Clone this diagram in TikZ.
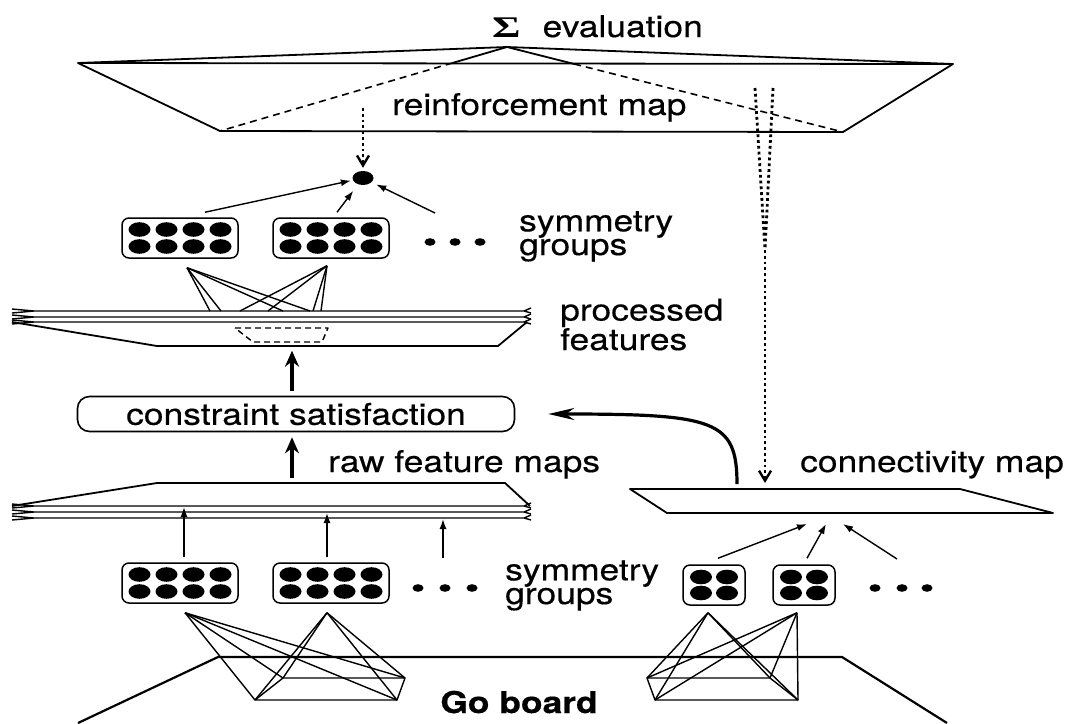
\documentclass[tikz,border=0pt]{standalone}
\usepackage[no-math]{fontspec}
\setmainfont{TeX Gyre Heros}[FakeStretch=1.18,FakeBold=0.35]
\newfontfamily\sigmafont{Liberation Serif}[FakeStretch=1.45]
\usetikzlibrary{arrows.meta,calc,shapes.geometric}

\begin{document}
\begin{tikzpicture}[x=1pt,y=-1pt,line join=round,
                        plane/.style={line width=1.8},
                        fine/.style={line width=1.4},
                        hidden/.style={line width=1.6,dash pattern=on 7pt off 5pt},
                        dotline/.style={line width=2.8,dash pattern=on 2.8pt off 3pt},
                        group/.style={draw,line width=1.5,rounded corners=7,minimum width=116,minimum height=40,inner sep=0},
                        smallgroup/.style={group,minimum width=62},
                        blob/.style={ellipse,fill,minimum width=21,minimum height=14,inner sep=0},
                        lbl/.style={font=\fontsize{30}{22}\selectfont,anchor=base west,inner sep=0,align=left},
                        thinarrow/.style={fine,-{Latex[length=10,width=7]}},
                        bigarrow/.style={line width=3.2,-{Stealth[length=16,width=14]}},
                        openarrow/.style={dotline,-{Straight Barb[length=10,width=12,line width=2.4]}}
                        ]
    \useasboundingbox (0,0) rectangle (1078,723);
    \fill[white] (0,0) rectangle (1078,723);

    % reinforcement map with the evaluation pyramid
    \coordinate (rtop) at (507,47);
    \coordinate (rnw) at (78,63);
    \coordinate (rne) at (953,64);
    \coordinate (rse) at (843,132);
    \coordinate (rsw) at (220,131);
    \draw[plane] (rnw) -- (rne) -- (rse) -- (rsw) -- cycle;
    \draw[plane] (rnw) -- (rtop) -- (rne);
    \draw[plane] (rtop) -- ($(rtop)!0.19!(rsw)$) coordinate (rl);
    \draw[plane] (rtop) -- ($(rtop)!0.2!(rse)$) coordinate (rr);
    \draw[hidden] (rl) -- (rsw);
    \draw[hidden] (rr) -- (rse);
    \node[lbl] (eval) at (492,37) {{\sigmafont\bfseries\fontsize{30}{30}\selectfont Σ}\hspace*{22pt}evaluation};
    \node[lbl] (rmap) at (392,115) {reinforcement map};

    % upper symmetry groups
    \foreach \n/\x in {ga/180,gb/331} {
        \node[group] (\n) at (\x,238) {};
        \foreach \i in {-1.5,-0.5,0.5,1.5}
            \foreach \j in {-0.5,0.5}
                \fill (\x+27*\i,238+17*\j) ellipse (11pt and 7.3pt);
    }
    \foreach \x in {430,455,480} \fill (\x,242) ellipse (5.5pt and 3.8pt);
    \node[lbl] (symtop) at (519,255) {symmetry\\groups};

    \node[blob] (dot) at (363,178) {};
    \coordinate (rdrop) at (363,108);
    \draw[openarrow,shorten >=3] (rdrop) -- (dot);
    \draw[thinarrow,shorten >=2] ($(ga.north)+(25,-5)$) -- (dot);
    \draw[thinarrow,shorten >=8] ($(gb.north)+(6,-5)$) -- (dot);
    \coordinate (gmore) at (435,213);
    \draw[thinarrow,shorten >=5] (gmore) -- (dot);

    % processed features
    \foreach \y in {311,317,322}
        \draw[fine] (12,\y-2) -- (34,\y) -- (524,\y) -- (531,\y-3) (12,\y+2) -- (34,\y) (524,\y) -- (531,\y+2);
    \draw[plane] (12,322) -- (157,346) -- (498,346) -- (527,322);
    \draw[fine,dash pattern=on 6pt off 4pt] (235,328) -- (328,328) -- (322,342) -- (253,342) -- cycle;
    \node[lbl] (proc) at (560,350) {processed\\features};

    \coordinate (pa) at ($(ga.south)+(7,9)$);
    \coordinate (pb) at ($(gb.south)+(-4,7)$);
    \foreach \x in {210,221,283,310} \draw[fine] (pa) -- (\x,311);
    \foreach \x in {240,268,313,321} \draw[fine] (pb) -- (\x,311);

    % constraint satisfaction
    \node[draw,line width=1.6,rounded corners=12,minimum width=437,minimum height=35,inner sep=0,
          font=\fontsize{30}{22}\selectfont] (cs) at (296,414) {constraint satisfaction};
    \draw[bigarrow] ($(cs.north)+(-4,-5)$) -- ++(0,-40);
    \coordinate (rawtop) at (292,478);
    \draw[bigarrow] (rawtop) -- ($(cs.south)+(-4,5)$);

    % raw feature maps
    \draw[plane] (12,506) -- (157,483) -- (505,483) -- (530,506);
    \foreach \y in {506,512,518}
        \draw[fine] (12,\y-2) -- (34,\y) -- (524,\y) -- (531,\y-3) (12,\y+2) -- (34,\y) (524,\y) -- (531,\y+2);
    \node[lbl] (raw) at (328,472) {raw feature maps};

    % connectivity map
    \coordinate (cnw) at (630,489);
    \coordinate (cne) at (960,489);
    \coordinate (cse) at (1053,513);
    \coordinate (csw) at (667,513);
    \draw[plane] (cnw) -- (cne) -- (cse) -- (csw) -- cycle;
    \node[lbl] (conn) at (800,472) {connectivity map};
    \coordinate (fa) at (755,88);
    \coordinate (fb) at (773,88);
    \coordinate (fm) at (765,250);
    \coordinate (fend) at (765,483);
    \draw[dotline] (fa) -- (fm) (fb) -- (fm);
    \draw[openarrow] (fm) -- (fend);
    \coordinate (cout) at (737,484);
    \draw[bigarrow,-{Stealth[length=26,width=12]}] (cout) .. controls (737,420) and (715,414) .. ($(cs.east)+(33,0)$);

    % lower symmetry groups
    \foreach \n/\x in {gc/180,gd/331} {
        \node[group] (\n) at (\x,583) {};
        \foreach \i in {-1.5,-0.5,0.5,1.5}
            \foreach \j in {-0.5,0.5}
                \fill (\x+27*\i,583+17*\j) ellipse (11pt and 7.3pt);
    }
    \foreach \n/\x in {ge/714,gf/804} {
        \node[smallgroup] (\n) at (\x,585) {};
        \foreach \i in {-0.5,0.5}
            \foreach \j in {-0.5,0.5}
                \fill (\x+26*\i,585+16*\j) ellipse (11pt and 7.3pt);
    }
    \foreach \x in {418,445,472} \fill (\x,588) ellipse (5.5pt and 3.8pt);
    \foreach \x in {875,902,927} \fill (\x,588) ellipse (5.5pt and 3.8pt);
    \node[lbl] (symbot) at (505,604) {symmetry\\groups};

    \draw[thinarrow] ($(gc.north)+(4,-5)$) -- (184,507);
    \draw[thinarrow] ($(gd.north)+(-4,-5)$) -- (327,513);
    \coordinate (cmore) at (443,558);
    \draw[thinarrow] (cmore) -- (443,519);
    \draw[thinarrow] ($(ge.north)+(4,-6)$) -- (807,524);
    \draw[thinarrow] ($(gf.north)+(3,-6)$) -- (826,524);
    \coordinate (emore) at (897,559);
    \draw[thinarrow] (emore) -- (843,524);

    % Go board
    \draw[line width=2.2] (78,723) -- (218,657) -- (842,657) -- (947,723);
    \node[font=\bfseries\fontsize{30}{22}\selectfont,anchor=base,inner sep=0] (go) at (519,713) {Go board};

    \coordinate (la) at (283,678);
    \coordinate (lb) at (405,678);
    \coordinate (lc) at (397,700);
    \coordinate (ld) at (255,700);
    \draw[fine] (la) -- (lb) -- (lc) -- (ld) -- cycle;
    \coordinate (qa) at ($(gc.south)+(5,9)$);
    \coordinate (qb) at ($(gd.south)+(-4,9)$);
    \foreach \p in {qa,qb}
        \foreach \c in {la,lb,lc,ld}
            \draw[fine] (\p) -- (\c);

    \coordinate (ma) at (647,678);
    \coordinate (mb) at (770,678);
    \coordinate (mc) at (798,700);
    \coordinate (md) at (655,700);
    \draw[fine] (ma) -- (mb) -- (mc) -- (md) -- cycle;
    \coordinate (qc) at ($(ge.south)+(-6,7)$);
    \coordinate (qd) at ($(gf.south)+(-7,7)$);
    \foreach \p in {qc,qd}
        \foreach \c in {ma,mb,mc,md}
            \draw[fine] (\p) -- (\c);
\end{tikzpicture}
\end{document}
